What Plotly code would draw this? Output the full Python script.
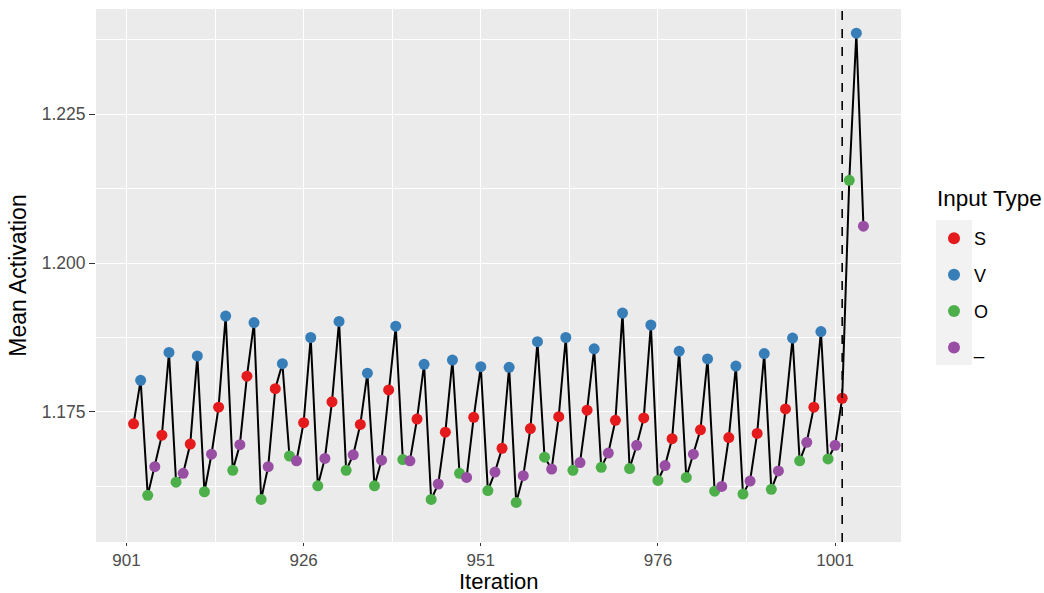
import plotly.graph_objects as go

# Mean activation per iteration; the input type cycles S, V, O, _ and
# switches to S, O, V, _ for the final block starting at iteration 1002.
iterations = list(range(902, 1006))
input_types = (["S", "V", "O", "_"] * 25) + ["S", "O", "V", "_"]
mean_activation = [
    1.1730, 1.1803, 1.1610, 1.1658,
    1.1711, 1.1850, 1.1632, 1.1647,
    1.1696, 1.1844, 1.1616, 1.1679,
    1.1758, 1.1911, 1.1652, 1.1695,
    1.1810, 1.1900, 1.1603, 1.1658,
    1.1789, 1.1831, 1.1676, 1.1668,
    1.1732, 1.1875, 1.1626, 1.1672,
    1.1767, 1.1902, 1.1652, 1.1678,
    1.1729, 1.1815, 1.1626, 1.1669,
    1.1787, 1.1894, 1.1670, 1.1668,
    1.1738, 1.1830, 1.1603, 1.1629,
    1.1716, 1.1837, 1.1647, 1.1640,
    1.1741, 1.1826, 1.1618, 1.1649,
    1.1689, 1.1825, 1.1598, 1.1643,
    1.1722, 1.1868, 1.1674, 1.1654,
    1.1742, 1.1875, 1.1652, 1.1665,
    1.1753, 1.1856, 1.1657, 1.1681,
    1.1736, 1.1916, 1.1655, 1.1694,
    1.1740, 1.1896, 1.1635, 1.1660,
    1.1705, 1.1852, 1.1640, 1.1679,
    1.1720, 1.1839, 1.1617, 1.1625,
    1.1707, 1.1827, 1.1612, 1.1634,
    1.1714, 1.1848, 1.1620, 1.1651,
    1.1755, 1.1874, 1.1668, 1.1699,
    1.1758, 1.1885, 1.1671, 1.1694,
    1.1773, 1.2139, 1.2386, 1.2062,
]
type_order = ["S", "V", "O", "_"]
type_colors = {"S": "#E41A1C", "V": "#377EB8", "O": "#4DAF4A", "_": "#984EA3"}
switch_iteration = 1002

FONT = "Liberation Sans"

fig = go.Figure()

# connecting line through every iteration
fig.add_trace(go.Scatter(
    x=iterations, y=mean_activation, mode="lines",
    line=dict(color="black", width=2), showlegend=False, hoverinfo="skip",
))

for t in type_order:
    xs = [it for it, ty in zip(iterations, input_types) if ty == t]
    ys = [v for v, ty in zip(mean_activation, input_types) if ty == t]
    fig.add_trace(go.Scatter(
        x=xs, y=ys, mode="markers", name=t, legendgroup=t,
        marker=dict(color=type_colors[t], size=11, line=dict(width=0)),
    ))

# dashed marker for the switch point
fig.add_shape(type="line", xref="x", yref="paper", x0=switch_iteration, x1=switch_iteration,
              y0=0, y1=1, line=dict(color="black", width=1.6, dash="dash"), layer="above")

# grey backdrop behind the legend keys
fig.add_shape(type="rect", xref="paper", yref="paper", x0=1.0435, x1=1.0882, y0=0.332, y1=0.604,
              fillcolor="#F2F2F2", line=dict(width=0), layer="below")

# legend heading
fig.add_annotation(text="Input Type", xref="paper", yref="paper", x=1.0425, y=0.645,
                   xanchor="left", yanchor="middle", showarrow=False,
                   font=dict(family=FONT, size=22.5, color="black"))

# x-axis title, placed just under the tick labels
fig.add_annotation(text="Iteration", xref="paper", yref="paper", x=0.5, y=-0.1,
                   xanchor="center", yanchor="bottom", showarrow=False, borderpad=0,
                   font=dict(family=FONT, size=22, color="black"))

axis_common = dict(
    showgrid=True, gridcolor="white", gridwidth=1.3, zeroline=False,
    ticks="outside", ticklen=6, tickwidth=1, tickcolor="#333333",
    tickfont=dict(family=FONT, size=17.5, color="#4D4D4D"),
    showline=False, automargin=False,
)

fig.update_layout(
    width=1044, height=593,
    margin=dict(l=96, r=143, t=9, b=51),
    paper_bgcolor="white", plot_bgcolor="#EBEBEB",
    font=dict(family=FONT, color="black"),
    xaxis=dict(
        **{**axis_common, "ticklen": 3, "tickfont": dict(family=FONT, size=17, color="#4D4D4D")},
        range=[896.7, 1010.3], tickmode="linear", tick0=901, dtick=25,
        minor=dict(tick0=901, dtick=12.5, showgrid=True, gridcolor="white", gridwidth=0.6, ticks=""),
    ),
    yaxis=dict(
        **axis_common, range=[1.15316, 1.24266], tickmode="linear", tick0=1.175, dtick=0.025,
        tickformat=".3f",
        minor=dict(tick0=1.175, dtick=0.0125, showgrid=True, gridcolor="white", gridwidth=0.6, ticks=""),
        title=dict(text="Mean Activation", font=dict(size=23, color="black"), standoff=8),
    ),
    legend=dict(
        font=dict(family=FONT, size=18, color="black"),
        x=1.041, xanchor="left", y=0.604, yanchor="top",
        bgcolor="rgba(0,0,0,0)", tracegroupgap=10, itemsizing="constant",
    ),
    showlegend=True,
)

fig.write_html("out.html")
